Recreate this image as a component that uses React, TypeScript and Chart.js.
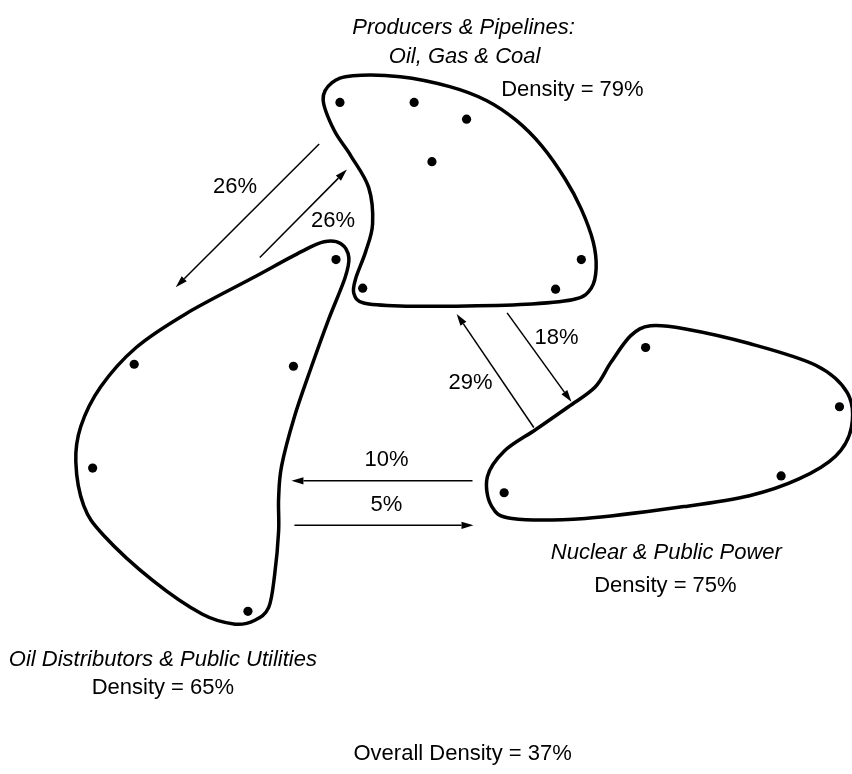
import React, { useEffect, useRef } from "react";
import { Chart, registerables } from "chart.js";

Chart.register(...registerables);

// Actor positions (diagram coordinates)
const producersDots = [[339, 99], [414, 99], [467, 116], [432, 159], [583, 258], [557, 288], [362, 287]];
const distributorsDots = [[335, 258], [131, 364], [292, 366], [89, 469], [246, 614]];
const nuclearDots = [[648, 347], [844, 407], [785, 477], [505, 494]];

// Cluster outlines (closed smooth curves)
const producersOutline = [[322, 96], [331, 79], [352, 72], [400, 73], [450, 83], [487, 97], [517, 117], [543, 143], [567, 177], [583, 207], [595, 240], [598, 267], [593, 287], [577, 298], [533, 303], [467, 305], [400, 305], [363, 302], [353, 292], [355, 277], [365, 250], [372, 222], [368, 185], [350, 153], [333, 127]];
const distributorsOutline = [[323, 240], [340, 242], [348, 256], [344, 277], [327, 320], [310, 367], [293, 417], [280, 467], [277, 500], [277, 533], [273, 577], [267, 610], [253, 623], [233, 627], [200, 617], [150, 583], [100, 537], [80, 507], [72, 463], [77, 427], [97, 387], [133, 347], [183, 313], [250, 277], [300, 250]];
const nuclearOutline = [[488, 478], [492, 507], [513, 520], [587, 520], [687, 508], [753, 497], [803, 480], [840, 457], [856, 428], [852, 393], [820, 365], [753, 343], [687, 328], [653, 325], [633, 335], [613, 362], [597, 387], [570, 407], [537, 430], [505, 452]];

// Flows: [x1, y1, x2, y2] arrow head at end
const flowLines = [[318, 141, 173, 286], [258, 256, 346, 167], [535, 428, 457, 313], [508, 312, 573, 402], [473, 482, 290, 482], [293, 527, 474, 527]];
const flowLabels = ["26%", "26%", "29%", "18%", "10%", "5%"];
const flowLabelPos = [[233, 185], [332, 219], [471, 383], [558, 337], [386, 461], [386, 506]];

// Text labels
const textLines = ["Producers & Pipelines:", "Oil, Gas & Coal", "Density = 79%", "Nuclear & Public Power", "Density = 75%", "Oil Distributors & Public Utilities", "Density = 65%", "Overall Density = 37%"];
const textItalic = [true, true, false, true, false, true, false, false];
const textPos = [[464, 24], [465, 53], [574, 86], [669, 555], [668, 588], [160, 663], [160, 692], [463, 758]];

const FONT = "'Liberation Sans', Arial, Helvetica, sans-serif";

const diagramPlugin = {
  id: "diagram",
  afterDatasetsDraw(chart: any) {
    const ctx = chart.ctx;
    const xs = chart.scales.x;
    const ys = chart.scales.y;
    const px = (v: number) => xs.getPixelForValue(v);
    const py = (v: number) => ys.getPixelForValue(v);

    // outlines
    const drawClosed = (pts: number[][]) => {
      const p = pts.map((q) => [px(q[0]), py(q[1])]);
      const n = p.length;
      ctx.beginPath();
      ctx.moveTo(p[0][0], p[0][1]);
      for (let i = 0; i < n; i++) {
        const p0 = p[(i - 1 + n) % n];
        const p1 = p[i];
        const p2 = p[(i + 1) % n];
        const p3 = p[(i + 2) % n];
        const c1x = p1[0] + (p2[0] - p0[0]) / 6;
        const c1y = p1[1] + (p2[1] - p0[1]) / 6;
        const c2x = p2[0] - (p3[0] - p1[0]) / 6;
        const c2y = p2[1] - (p3[1] - p1[1]) / 6;
        ctx.bezierCurveTo(c1x, c1y, c2x, c2y, p2[0], p2[1]);
      }
      ctx.closePath();
      ctx.save();
      ctx.lineWidth = 3.5;
      ctx.strokeStyle = "#000";
      ctx.lineJoin = "round";
      ctx.stroke();
      ctx.restore();
    };
    [producersOutline, distributorsOutline, nuclearOutline].forEach(drawClosed);

    // arrows
    ctx.save();
    ctx.strokeStyle = "#000";
    ctx.fillStyle = "#000";
    ctx.lineWidth = 1.5;
    flowLines.forEach((f) => {
      const x1 = px(f[0]), y1 = py(f[1]), x2 = px(f[2]), y2 = py(f[3]);
      const ang = Math.atan2(y2 - y1, x2 - x1);
      const len = 12, hw = 3.6;
      const bx = x2 - len * Math.cos(ang), by = y2 - len * Math.sin(ang);
      ctx.beginPath();
      ctx.moveTo(x1, y1);
      ctx.lineTo(bx, by);
      ctx.stroke();
      ctx.beginPath();
      ctx.moveTo(x2, y2);
      ctx.lineTo(bx + hw * Math.sin(ang), by - hw * Math.cos(ang));
      ctx.lineTo(bx - hw * Math.sin(ang), by + hw * Math.cos(ang));
      ctx.closePath();
      ctx.fill();
    });

    // flow labels
    ctx.textAlign = "center";
    ctx.textBaseline = "middle";
    ctx.font = "22px " + FONT;
    flowLabels.forEach((t, i) => {
      ctx.fillText(t, px(flowLabelPos[i][0]), py(flowLabelPos[i][1]));
    });

    textLines.forEach((t, i) => {
      ctx.font = (textItalic[i] ? "italic " : "") + "22px " + FONT;
      ctx.fillText(t, px(textPos[i][0]), py(textPos[i][1]));
    });
    ctx.restore();
  },
};

const toPts = (arr: number[][]) => arr.map((d) => ({ x: d[0], y: d[1] }));

export default function App() {
  const ref = useRef<HTMLCanvasElement | null>(null);
  useEffect(() => {
    if (!ref.current) return;
    const chart = new Chart(ref.current, {
      type: "scatter",
      data: {
        datasets: [
          { label: "Producers & Pipelines", data: toPts(producersDots) },
          { label: "Oil Distributors & Public Utilities", data: toPts(distributorsDots) },
          { label: "Nuclear & Public Power", data: toPts(nuclearDots) },
        ].map((d) => ({
          ...d,
          pointRadius: 4.6,
          pointHoverRadius: 4.6,
          backgroundColor: "#000",
          borderColor: "#000",
          borderWidth: 0,
        })),
      },
      options: {
        animation: false,
        responsive: true,
        maintainAspectRatio: false,
        layout: { padding: 0 },
        events: [],
        scales: {
          x: { type: "linear", min: 0, max: 852, display: false },
          y: { type: "linear", min: 0, max: 774, reverse: true, display: false },
        },
        plugins: {
          legend: { display: false },
          tooltip: { enabled: false },
        },
      },
      plugins: [diagramPlugin],
    });
    return () => chart.destroy();
  }, []);
  return (
    <div style={{ position: "absolute", left: 0, top: 0, width: 852, height: 774, background: "#fff" }}>
      <canvas ref={ref} />
    </div>
  );
}
